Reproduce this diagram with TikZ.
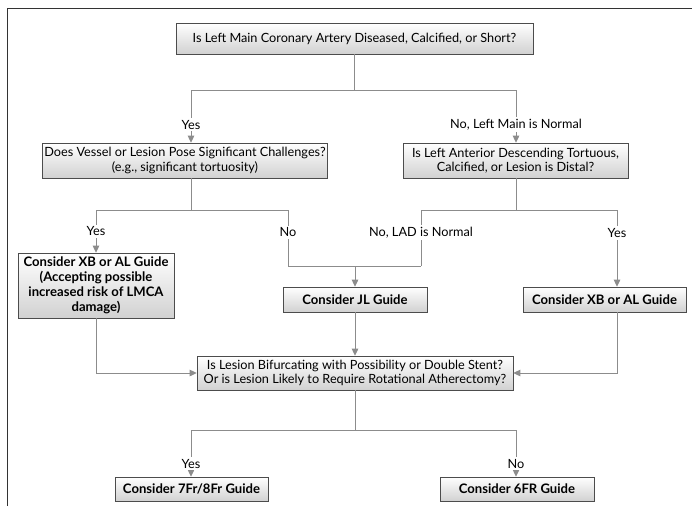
\documentclass[tikz,border=0pt]{standalone}
\usepackage{fontspec}
\setmainfont{Lato}
\usetikzlibrary{arrows.meta}
\begin{document}
\begin{tikzpicture}[x=1pt,y=-1pt,
  box/.style={draw=black!70, line width=0.6pt, top color=white, bottom color=black!18,
    inner sep=2pt, align=center, font=\fontsize{12.7}{14.5}\selectfont},
  bbox/.style={box, font=\bfseries\fontsize{13.1}{15.2}\selectfont},
  conn/.style={draw=black!45, line width=0.9pt},
  arr/.style={conn, -{Triangle[width=6.5pt,length=7pt]}},
  lab/.style={fill=white, inner sep=2pt, font=\fontsize{12.7}{14}\selectfont}]
\useasboundingbox (0,0) rectangle (692,506);
% frame
\draw[black!80, line width=1pt] (7,506) -- (7,8) -- (692,8);
% nodes
\node[box, minimum width=357pt, minimum height=31pt] (top) at (354.5,38.5)
  {Is Left Main Coronary Artery Diseased, Calcified, or Short?};
\node[box, minimum width=278pt, minimum height=35pt] (q2l) at (185,160.5)
  {Does Vessel or Lesion Pose Significant Challenges?\\(e.g., significant tortuosity)};
\node[box, minimum width=225pt, minimum height=35pt] (q2r) at (515.5,160.5)
  {Is Left Anterior Descending Tortuous,\\Calcified, or Lesion is Distal?};
\node[bbox, minimum width=156pt, minimum height=65pt] (c3l) at (96,285.5)
  {Consider XB or AL Guide\\(Accepting possible\\increased risk of LMCA\\damage)};
\node[bbox, minimum width=144pt, minimum height=25pt] (jl) at (355,299.5)
  {Consider JL Guide};
\node[bbox, minimum width=163pt, minimum height=25pt] (c3r) at (604.5,299.5)
  {Consider XB or AL Guide};
\node[box, minimum width=316pt, minimum height=34pt] (q4) at (355,373)
  {Is Lesion Bifurcating with Possibility or Double Stent?\\Or is Lesion Likely to Require Rotational Atherectomy?};
\node[bbox, minimum width=153pt, minimum height=24pt] (b1) at (191.5,489)
  {Consider 7Fr/8Fr Guide};
\node[bbox, minimum width=154pt, minimum height=24pt] (b2) at (517,489)
  {Consider 6FR Guide};
% coordinates
\coordinate (h1l) at (191,90);
\coordinate (h1r) at (516,90);
\coordinate (h2a) at (96,210);
\coordinate (h2b) at (288,210);
\coordinate (h2c) at (421,210);
\coordinate (h2d) at (617,210);
\coordinate (j1) at (288,266);
\coordinate (j2) at (421,266);
\coordinate (h3l) at (191,430);
\coordinate (h3r) at (516,430);
% connectors level 1
\draw[conn] (top.south) -- (top.south |- h1l);
\draw[conn] (h1l) -- (h1r);
\draw[arr] (h1l) -- node[lab, pos=0.66]{Yes} (h1l |- q2l.north);
\draw[arr] (h1r) -- node[lab, pos=0.66]{No, Left Main is Normal} (h1r |- q2r.north);
% level 2
\draw[conn] (h1l |- q2l.south) -- (h2a -| h1l);
\draw[conn] (h2a) -- (h2b);
\draw[conn] (h1r |- q2r.south) -- (h2c -| h1r);
\draw[conn] (h2c) -- (h2d);
\draw[arr] (h2a) -- node[lab, pos=0.5]{Yes} (h2a |- c3l.north);
\draw[conn] (h2b) -- node[lab, pos=0.4]{No} (j1);
\draw[conn] (h2c) -- node[lab, pos=0.4]{No, LAD is Normal} (j2);
\draw[conn] (j1) -- (j2);
\draw[arr] (jl.north |- j1) -- (jl.north);
\draw[arr] (h2d) -- node[lab, pos=0.3]{Yes} (h2d |- c3r.north);
% level 3
\draw[arr] (c3l.south) |- (q4.west);
\draw[arr] (jl.south) -- (q4.north);
\draw[arr] (h2d |- c3r.south) |- (q4.east);
% level 4
\draw[conn] (q4.south) -- (q4.south |- h3l);
\draw[conn] (h3l) -- (h3r);
\draw[arr] (h3l) -- node[lab, pos=0.72]{Yes} (h3l |- b1.north);
\draw[arr] (h3r) -- node[lab, pos=0.72]{No} (h3r |- b2.north);
\end{tikzpicture}
\end{document}
